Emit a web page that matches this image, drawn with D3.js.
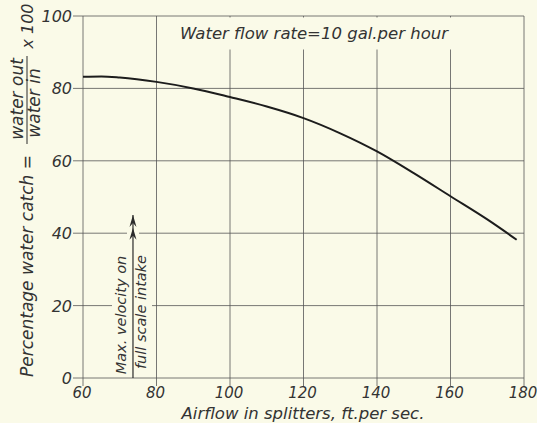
<!DOCTYPE html>
<html>
<head>
<meta charset="utf-8">
<script src="https://cdn.jsdelivr.net/npm/d3@7"></script>
<style>
  body { margin: 0; background: #fafae8; }
  svg text { font-family: "DejaVu Sans", sans-serif; font-style: italic; fill: #333; }
</style>
</head>
<body>
<svg id="chart" width="537" height="423"></svg>
<script>
// airflow (ft/sec) vs percentage water catch
var airflow = [60, 65, 70, 80, 90, 100, 110, 120, 130, 140, 150, 160, 170, 178];
var waterCatch = [83.2, 83.3, 83.0, 81.8, 80.0, 77.6, 75.0, 71.8, 67.6, 62.6, 56.6, 50.2, 43.8, 38.2];
var xTicks = [60, 80, 100, 120, 140, 160, 180];
var yTicks = [0, 20, 40, 60, 80, 100];
var maxVelocity = 73.6;

var svg = d3.select("#chart");
var bg = "#fafae8";
var ink = "#2b2b2b";

var x = d3.scaleLinear().domain([60, 180]).range([83, 524]);
var y = d3.scaleLinear().domain([0, 100]).range([378, 16]);

var grid = svg.append("g");
grid.selectAll(".vx").data(xTicks).enter().append("line")
    .attr("x1", d => x(d)).attr("x2", d => x(d))
    .attr("y1", y(100)).attr("y2", y(0) + 8)
    .attr("stroke", "#555").attr("stroke-width", 0.8);
grid.selectAll(".hy").data(yTicks).enter().append("line")
    .attr("x1", x(60) - 10).attr("x2", x(180))
    .attr("y1", d => y(d)).attr("y2", d => y(d))
    .attr("stroke", "#555").attr("stroke-width", 0.8);

// gaps in the grid behind the lettering
svg.append("rect").attr("x", 168).attr("y", y(100) + 1.5)
    .attr("width", 294).attr("height", 32).attr("fill", bg);
svg.append("rect").attr("x", 112).attr("y", 299)
    .attr("width", 40).attr("height", 12).attr("fill", bg);
svg.append("rect").attr("x", 127).attr("y", 228)
    .attr("width", 12).attr("height", 10).attr("fill", bg);

svg.append("text").attr("x", 314).attr("y", 39)
    .attr("text-anchor", "middle").attr("font-size", 16.5)
    .text("Water flow rate=10 gal.per hour");

// tick labels
svg.selectAll(".xl").data(xTicks).enter().append("text")
    .attr("x", d => x(d) - 1).attr("y", 398)
    .attr("text-anchor", "middle").attr("font-size", 15)
    .text(d => d);
svg.selectAll(".yl").data(yTicks).enter().append("text")
    .attr("x", 72).attr("y", d => y(d) + 6)
    .attr("text-anchor", "end").attr("font-size", 16)
    .text(d => d);

svg.append("text").attr("x", 303).attr("y", 419)
    .attr("text-anchor", "middle").attr("font-size", 16.5)
    .text("Airflow in splitters, ft.per sec.");

// y axis label with the fraction
var yl = svg.append("g");
yl.append("text").attr("transform", "translate(33,266) rotate(-90)")
    .attr("text-anchor", "middle").attr("font-size", 17)
    .text("Percentage water catch =");
yl.append("text").attr("transform", "translate(23,99) rotate(-90)")
    .attr("text-anchor", "middle").attr("font-size", 17)
    .text("water out");
yl.append("line").attr("x1", 27).attr("x2", 27)
    .attr("y1", 144).attr("y2", 56).attr("stroke", ink).attr("stroke-width", 1);
yl.append("text").attr("transform", "translate(40,103) rotate(-90)")
    .attr("text-anchor", "middle").attr("font-size", 17)
    .text("water in");
yl.append("text").attr("transform", "translate(33,26) rotate(-90)")
    .attr("text-anchor", "middle").attr("font-size", 16)
    .text("x 100");

// curve
var line = d3.line().curve(d3.curveMonotoneX)
    .x((d, i) => x(airflow[i])).y(d => y(d));
svg.append("path").datum(waterCatch).attr("d", line)
    .attr("fill", "none").attr("stroke", "#1c1c1c").attr("stroke-width", 2);

// max velocity marker
var mx = x(maxVelocity);
svg.append("line").attr("x1", mx).attr("x2", mx)
    .attr("y1", y(0)).attr("y2", y(45))
    .attr("stroke", ink).attr("stroke-width", 1.2);
[45, 41.5].forEach(function(v) {
    var ty = y(v);
    svg.append("path")
        .attr("d", "M" + mx + "," + ty + " L" + (mx - 3.5) + "," + (ty + 12) +
            " L" + mx + "," + (ty + 8) + " L" + (mx + 3.5) + "," + (ty + 12) + "Z")
        .attr("fill", ink);
});
svg.append("text").attr("transform", "translate(126,315) rotate(-90)")
    .attr("text-anchor", "middle").attr("font-size", 14.5)
    .text("Max. velocity on");
svg.append("text").attr("transform", "translate(146,312) rotate(-90)")
    .attr("text-anchor", "middle").attr("font-size", 14.5)
    .text("full scale intake");
</script>
</body>
</html>
